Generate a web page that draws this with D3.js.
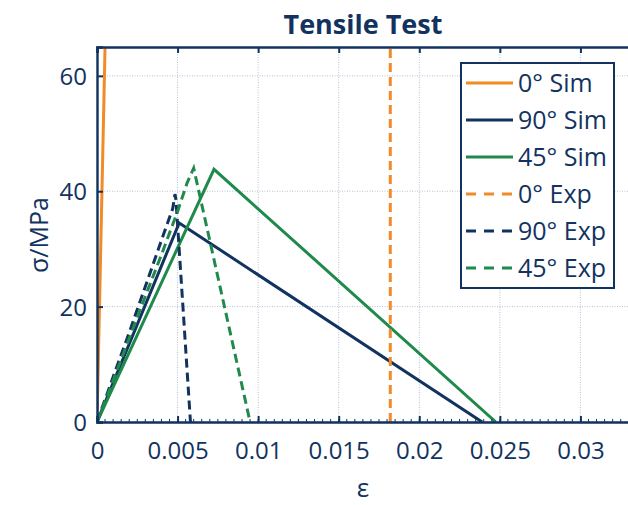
<!DOCTYPE html>
<html>
<head>
<meta charset="utf-8">
<script src="https://cdn.jsdelivr.net/npm/d3@7"></script>
<style>
  body { margin: 0; background: #fff; }
  svg { display: block; font-family: "Open Sans", "Noto Sans", sans-serif; }
</style>
</head>
<body>
<svg id="chart" width="628" height="505"></svg>
<script>
// series data: [strain, stress in MPa]
var sim0 = [[0, 0], [0.0006, 78]];
var sim90 = [[0, 0], [0.0051, 34.5], [0.0239, 0]];
var sim45 = [[0, 0], [0.00726, 43.8], [0.02475, 0]];
var exp0 = [[0.0182, 0], [0.0182, 80]];
var exp90 = [[0, 0], [0.001, 7.8], [0.002, 15.5], [0.003, 23.5], [0.004, 31.5], [0.0047, 37], [0.00484, 39.5], [0.0049, 38.5], [0.0058, 0]];
var exp45 = [[0, 0], [0.001, 7.2], [0.002, 14.5], [0.003, 21.8], [0.004, 29], [0.005, 36.5], [0.0056, 41.5], [0.006, 44], [0.0095, 0]];

var seriesNames = ["0° Sim", "90° Sim", "45° Sim", "0° Exp", "90° Exp", "45° Exp"];
var seriesData = [sim0, sim90, sim45, exp0, exp90, exp45];
var xTicks = [0, 0.005, 0.01, 0.015, 0.02, 0.025, 0.03];
var yTicks = [0, 20, 40, 60];

var navy = "#12335f", orange = "#f28a26", green = "#1f8a4c";
var colors = [orange, navy, green, orange, navy, green];
var dashed = [false, false, false, true, true, true];

var svg = d3.select("#chart");
var mLeft = 97, mTop = 47, mBottom = 422, mRight = 661;

var x = d3.scaleLinear().domain([0, 0.035]).range([mLeft, mRight]);
var y = d3.scaleLinear().domain([0, 65]).range([mBottom, mTop]);

// clip
svg.append("defs").append("clipPath").attr("id", "clip")
  .append("rect").attr("x", mLeft).attr("y", mTop).attr("width", mRight - mLeft).attr("height", mBottom - mTop);

// grid
var grid = svg.append("g");
grid.selectAll(".gx").data(xTicks).enter().append("line")
  .attr("x1", d => x(d)).attr("x2", d => x(d)).attr("y1", mTop).attr("y2", mBottom)
  .attr("stroke", "#b3c0d3").attr("stroke-width", 1).attr("stroke-dasharray", "1,1.5");
grid.selectAll(".gy").data(yTicks).enter().append("line")
  .attr("x1", mLeft).attr("x2", mRight).attr("y1", d => y(d)).attr("y2", d => y(d))
  .attr("stroke", "#b3c0d3").attr("stroke-width", 1).attr("stroke-dasharray", "1,1.5");

// lines
var line = d3.line().x(d => x(d[0])).y(d => y(d[1]));
var lineGroup = svg.append("g").attr("clip-path", "url(#clip)");
seriesData.forEach(function(s, i) {
  lineGroup.append("path")
    .attr("d", line(s))
    .attr("fill", "none")
    .attr("stroke", colors[i])
    .attr("stroke-width", 3)
    .attr("stroke-dasharray", dashed[i] ? "9,5" : null);
});

// axes
var xAxis = d3.axisBottom(x).tickValues(xTicks).tickSize(-6).tickPadding(20)
  .tickFormat(d => d3.format("~g")(+d.toFixed(4)));
var gx = svg.append("g").attr("transform", "translate(0," + mBottom + ")").call(xAxis);
var gxTop = svg.append("g").attr("transform", "translate(0," + mTop + ")")
  .call(d3.axisTop(x).tickValues(xTicks).tickSize(-6).tickFormat(""));
var yAxis = d3.axisLeft(y).tickValues(yTicks).tickSize(-6).tickPadding(10);
var gy = svg.append("g").attr("transform", "translate(" + mLeft + ",0)").call(yAxis);

// minor ticks on x
svg.append("g").selectAll("line").data(d3.range(0, 0.0355, 0.0005)).enter().append("line")
  .attr("x1", d => x(d)).attr("x2", d => x(d)).attr("y1", mBottom).attr("y2", mBottom - 3)
  .attr("stroke", navy).attr("stroke-width", 1);

[gx, gxTop, gy].forEach(function(g) {
  g.select(".domain").attr("stroke", navy).attr("stroke-width", 2.4);
  g.selectAll(".tick line").attr("stroke", navy).attr("stroke-width", 2);
  g.selectAll(".tick text").attr("fill", navy).attr("font-size", 24)
    .attr("font-family", "'Open Sans', sans-serif");
});
gx.selectAll(".tick text").attr("dy", "0.71em");
gy.selectAll(".tick text").attr("dy", "0.36em");

// titles
svg.append("text").attr("x", 363).attr("y", 34).attr("text-anchor", "middle")
  .attr("font-size", 27).attr("font-weight", "bold").attr("fill", navy).text("Tensile Test");
svg.append("text").attr("x", 363).attr("y", 497).attr("text-anchor", "middle")
  .attr("font-size", 26).attr("fill", navy).text("ε");
svg.append("text").attr("transform", "translate(48,235) rotate(-90)").attr("text-anchor", "middle")
  .attr("font-size", 25).attr("fill", navy).text("σ/MPa");

// legend
var lg = svg.append("g");
lg.append("rect").attr("x", 461).attr("y", 63).attr("width", 153).attr("height", 225)
  .attr("fill", "#fff").attr("stroke", navy).attr("stroke-width", 2);
seriesNames.forEach(function(name, i) {
  var cy = 83 + i * 37;
  lg.append("line").attr("x1", 466).attr("x2", 513).attr("y1", cy).attr("y2", cy)
    .attr("stroke", colors[i]).attr("stroke-width", 3)
    .attr("stroke-dasharray", dashed[i] ? "10,8" : null);
  lg.append("text").attr("x", 518).attr("y", cy).attr("dy", "0.36em")
    .attr("font-size", 25).attr("fill", navy).text(name);
});
</script>
</body>
</html>
